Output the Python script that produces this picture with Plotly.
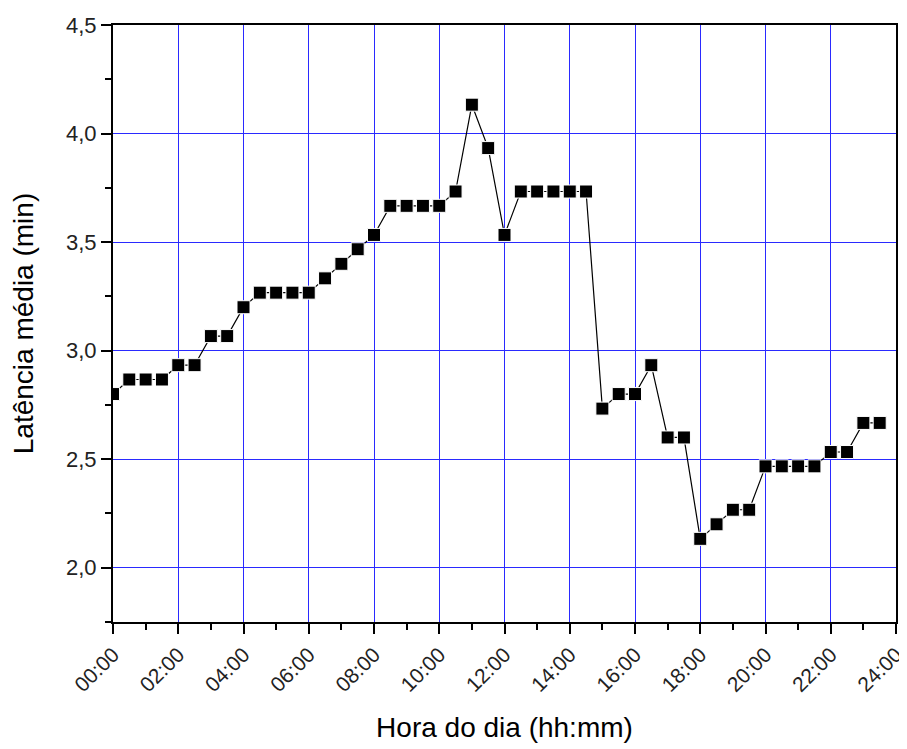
import plotly.graph_objects as go

hours = [i * 0.5 for i in range(48)]
latencia = [2.800, 2.867, 2.867, 2.867, 2.933, 2.933, 3.067, 3.067,
            3.200, 3.267, 3.267, 3.267, 3.267, 3.333, 3.400, 3.467,
            3.533, 3.667, 3.667, 3.667, 3.667, 3.733, 4.133, 3.933,
            3.533, 3.733, 3.733, 3.733, 3.733, 3.733, 2.733, 2.800,
            2.800, 2.933, 2.600, 2.600, 2.133, 2.200, 2.267, 2.267,
            2.467, 2.467, 2.467, 2.467, 2.533, 2.533, 2.667, 2.667]

x_tickvals = list(range(0, 25, 2))
x_ticktext = ["%02d:00" % h for h in x_tickvals]
y_tickvals = [2.0, 2.5, 3.0, 3.5, 4.0, 4.5]
y_ticktext = ["2,0", "2,5", "3,0", "3,5", "4,0", "4,5"]

font = "Liberation Sans, Arial, sans-serif"
grid_blue = "#2a2aff"

fig = go.Figure()
fig.add_trace(go.Scatter(
    x=hours, y=latencia, mode="lines+markers",
    line=dict(color="black", width=1.2),
    marker=dict(symbol="square", size=13, color="black",
                line=dict(color="white", width=1)),
    cliponaxis=True, showlegend=False,
))

fig.update_layout(
    width=899, height=741,
    margin=dict(l=105, r=11, t=17, b=127, autoexpand=False),
    paper_bgcolor="white", plot_bgcolor="white",
    font=dict(family=font, size=21, color="black"),
)

fig.update_xaxes(
    range=[0, 24], tickvals=x_tickvals, ticktext=x_ticktext,
    tickangle=-45, ticks="outside", ticklen=10, tickwidth=2, tickcolor="black",
    ticklabeloverflow="allow", automargin=False,
    minor=dict(dtick=1, tick0=0, ticks="outside", ticklen=6, tickwidth=2,
               tickcolor="black", showgrid=False),
    showgrid=True, gridcolor=grid_blue, gridwidth=1,
    showline=True, linecolor="black", linewidth=2, mirror=True,
    zeroline=False,
    title=dict(text="Hora do dia (hh:mm)", font=dict(size=28, family=font), standoff=22),
    tickfont=dict(size=21, family=font, color="#222222"),
)
fig.update_yaxes(
    range=[1.75, 4.5], tickvals=y_tickvals, ticktext=y_ticktext,
    ticks="outside", ticklen=10, tickwidth=2, tickcolor="black",
    automargin=False,
    minor=dict(dtick=0.25, tick0=0, ticks="outside", ticklen=6, tickwidth=2,
               tickcolor="black", showgrid=False),
    showgrid=True, gridcolor=grid_blue, gridwidth=1,
    showline=True, linecolor="black", linewidth=2, mirror=True,
    zeroline=False,
    title=dict(text="Latência média (min)", font=dict(size=28, family=font), standoff=24),
    tickfont=dict(size=22, family=font, color="#222222"),
)

fig.write_html("out.html")
